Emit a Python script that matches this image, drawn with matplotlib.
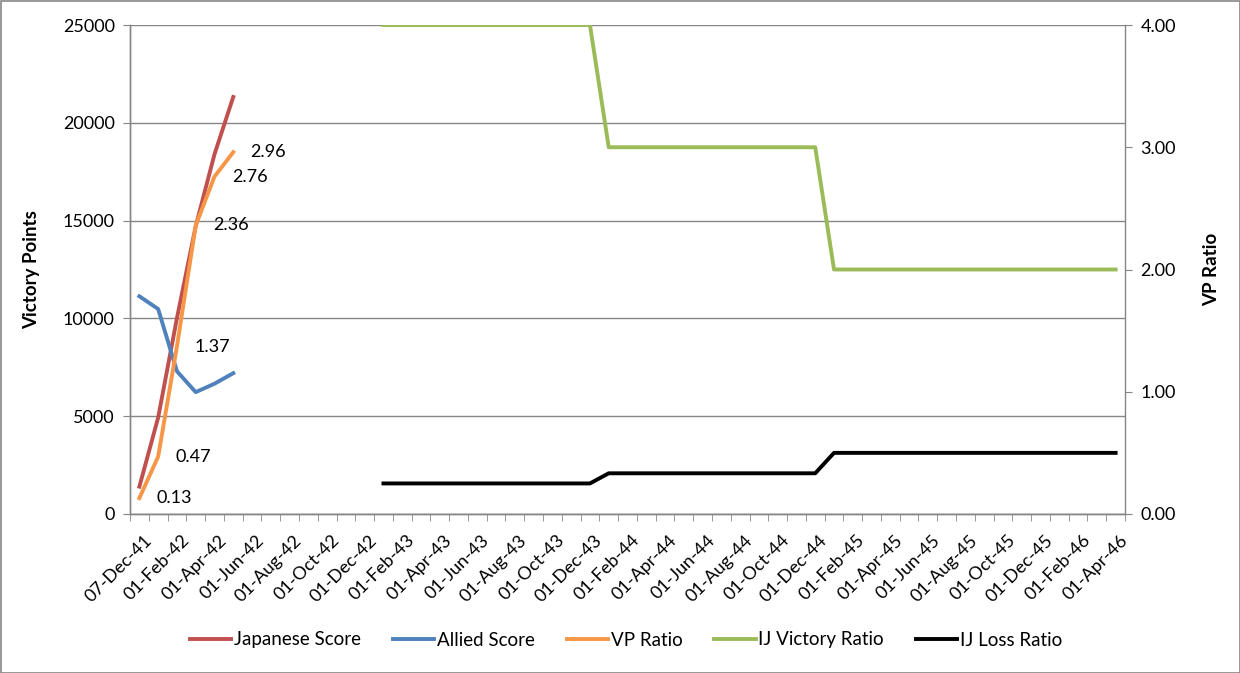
import matplotlib
matplotlib.use("Agg")
import matplotlib.pyplot as plt
import matplotlib.transforms as mtransforms
from matplotlib.patches import Rectangle
import pandas as pd

plt.rcParams['font.family'] = ['Lato', 'DejaVu Sans']

# ---------------- data ----------------
score_dates = ["1941-12-07", "1942-01-01", "1942-02-01", "1942-03-01", "1942-04-01", "1942-05-01"]
japanese_score = [1400, 4930, 10010, 14710, 18390, 21320]
allied_score = [11130, 10480, 7300, 6230, 6660, 7200]
vp_ratio = [0.13, 0.47, 1.37, 2.36, 2.76, 2.96]
vp_labels = ["0.13", "0.47", "1.37", "2.36", "2.76", "2.96"]

ij_start, ij_end = "1943-01-01", "1946-04-01"
ij_victory_ratio = [4.00, 4.00, 4.00, 4.00, 4.00, 4.00, 4.00, 4.00, 4.00, 4.00, 4.00, 4.00,
                    3.00, 3.00, 3.00, 3.00, 3.00, 3.00, 3.00, 3.00, 3.00, 3.00, 3.00, 3.00,
                    2.00, 2.00, 2.00, 2.00, 2.00, 2.00, 2.00, 2.00, 2.00, 2.00, 2.00, 2.00,
                    2.00, 2.00, 2.00, 2.00]
ij_loss_ratio = [0.25, 0.25, 0.25, 0.25, 0.25, 0.25, 0.25, 0.25, 0.25, 0.25, 0.25, 0.25,
                 0.333, 0.333, 0.333, 0.333, 0.333, 0.333, 0.333, 0.333, 0.333, 0.333, 0.333, 0.333,
                 0.50, 0.50, 0.50, 0.50, 0.50, 0.50, 0.50, 0.50, 0.50, 0.50, 0.50, 0.50,
                 0.50, 0.50, 0.50, 0.50]

axis_start, axis_end = "1941-12-01", "1946-04-01"
tick_labels = ["07-Dec-41", "01-Feb-42", "01-Apr-42", "01-Jun-42", "01-Aug-42", "01-Oct-42",
               "01-Dec-42", "01-Feb-43", "01-Apr-43", "01-Jun-43", "01-Aug-43", "01-Oct-43",
               "01-Dec-43", "01-Feb-44", "01-Apr-44", "01-Jun-44", "01-Aug-44", "01-Oct-44",
               "01-Dec-44", "01-Feb-45", "01-Apr-45", "01-Jun-45", "01-Aug-45", "01-Oct-45",
               "01-Dec-45", "01-Feb-46", "01-Apr-46"]

# ------------- month-based date axis (Excel style, base unit = months) -------------
base = pd.Timestamp(axis_start)

def month_pos(d):
    d = pd.Timestamp(d)
    return (d.year - base.year) * 12 + (d.month - base.month) + 0.5

x_scores = [month_pos(d) for d in score_dates]
ij_dates = pd.date_range(ij_start, ij_end, freq="MS")
x_ij = [month_pos(d) for d in ij_dates]
n_months = int(month_pos(axis_end) + 0.5)

# ---------------- figure ----------------
fig = plt.figure(figsize=(12.4, 6.73), dpi=100)
ax = fig.add_axes([130/1240, 1-514/673, 995/1240, 489/673])
ax2 = ax.twinx()

GRAY = "#868686"
lw = 2.8
FS = 13
red, blue, orange, green, black = "#C0504D", "#4F81BD", "#F79646", "#9BBB59", "#000000"

l1, = ax.plot(x_scores, japanese_score, color=red, lw=lw, label="Japanese Score")
l2, = ax.plot(x_scores, allied_score, color=blue, lw=lw, label="Allied Score")
l3, = ax2.plot(x_scores, vp_ratio, color=orange, lw=lw, label="VP Ratio")
l4, = ax2.plot(x_ij, ij_victory_ratio, color=green, lw=lw, label="IJ Victory Ratio")
l5, = ax2.plot(x_ij, ij_loss_ratio, color=black, lw=lw, label="IJ Loss Ratio")

for x, y, t in zip(x_scores, vp_ratio, vp_labels):
    ax2.annotate(t, (x, y), xytext=(12.5, 0), textcoords="offset points",
                 va="center", ha="left", fontsize=FS, color="black")

ax.set_xlim(0, n_months)
ax.set_ylim(0, 25000)
ax2.set_ylim(0, 4)
ax.set_yticks(range(0, 25001, 5000))
ax2.set_yticks([0, 1, 2, 3, 4])
ax2.set_yticklabels(["0.00", "1.00", "2.00", "3.00", "4.00"])

ax.yaxis.grid(True, color=GRAY, lw=1)
ax.set_axisbelow(True)

ax.set_xticks([i + 0.5 for i in range(0, n_months, 2)])
ax.set_xticklabels(tick_labels)
ax.set_xticks(range(0, n_months + 1), minor=True)
ax.tick_params(axis="x", which="major", length=0, pad=13, labelsize=FS)
ax.tick_params(axis="x", which="minor", length=5, color=GRAY, direction="out")
for lbl in ax.get_xticklabels():
    lbl.set_rotation(45)
    lbl.set_ha("right")
    lbl.set_va("top")
    lbl.set_rotation_mode("anchor")
    lbl.set_transform(lbl.get_transform() + mtransforms.ScaledTranslation(4/100, 0, fig.dpi_scale_trans))

ax.tick_params(axis="y", length=5, color=GRAY, labelsize=FS, pad=6)
ax2.tick_params(axis="y", length=5, color=GRAY, labelsize=FS, pad=6)

for a in (ax, ax2):
    a.spines["top"].set_visible(False)
    for s in ("left", "right", "bottom"):
        a.spines[s].set_color(GRAY)
        a.spines[s].set_linewidth(1)
ax.spines["right"].set_visible(False)

ax.set_ylabel("Victory Points", fontsize=13.5, fontweight="bold")
ax.yaxis.set_label_coords(-0.0905, 0.5)
ax2.set_ylabel("VP Ratio", fontsize=13.5, fontweight="bold")
ax2.yaxis.set_label_coords(1.078, 0.5)

fig.legend(handles=[l1, l2, l3, l4, l5], loc="center", bbox_to_anchor=(626/1240, 1-640/673),
           ncol=5, frameon=False, fontsize=13.5, handlelength=2.2, handletextpad=0.15,
           columnspacing=1.7)

fig.add_artist(Rectangle((0.5/1240, 0.5/673), 1-1/1240, 1-1/673, transform=fig.transFigure,
                         fill=False, edgecolor=GRAY, lw=1.2))

fig.savefig("out.png", dpi=100)
